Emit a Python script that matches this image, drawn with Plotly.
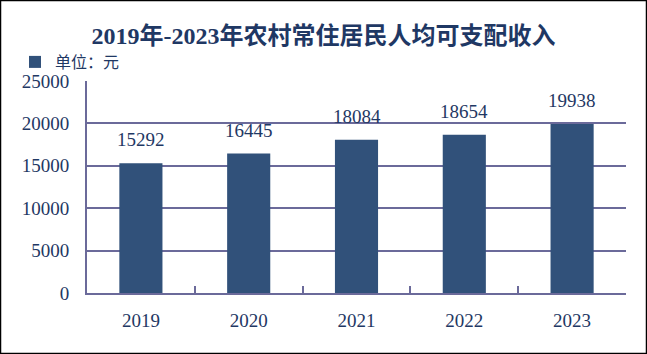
import plotly.graph_objects as go

years = ["2019", "2020", "2021", "2022", "2023"]
income = [15292, 16445, 18084, 18654, 19938]
ytick_vals = [0, 5000, 10000, 15000, 20000, 25000]

W, H = 647, 354
L, R, T, B = 87, 21, 81, 61
pw, ph = W - L - R, H - T - B

navy = "#1F3864"
grid = "#6B6A9A"
bar_color = "#31517A"
serif = "SimSun, 'Liberation Serif', 'Noto Sans CJK SC', serif"

fig = go.Figure()
fig.add_trace(go.Bar(
    x=years, y=income, name="单位：元",
    marker=dict(color=bar_color, line=dict(width=0)),
    width=0.4, showlegend=True,
))

for i, yv in enumerate(income):
    fig.add_annotation(x=i, y=yv, text=str(yv), showarrow=False,
                       xref="x", yref="y",
                       yanchor="bottom", yshift=11,
                       font=dict(family=serif, size=19, color=navy))

# outer border
fig.add_shape(type="rect", xref="paper", yref="paper",
              x0=(0.5 - L) / pw, x1=(W - 0.5 - L) / pw,
              y0=-(B - 0.5) / ph, y1=(ph + T - 0.5) / ph,
              line=dict(color="black", width=1.5), layer="above")

fig.update_layout(
    width=W, height=H,
    margin=dict(l=L, r=R, t=T, b=B),
    paper_bgcolor="white", plot_bgcolor="white",
    title=dict(text="<b>2019年-2023年农村常住居民人均可支配收入</b>",
               x=0.5, xref="container", xanchor="center",
               y=1 - 36 / H, yref="container", yanchor="middle",
               font=dict(family=serif, size=24, color=navy)),
    legend=dict(x=(15 - L) / pw, xanchor="left",
                y=1 + (T - 62) / ph, yanchor="middle",
                font=dict(family=serif, size=16, color=navy),
                bgcolor="rgba(0,0,0,0)", itemwidth=30,
                tracegroupgap=0),
    showlegend=True,
    xaxis=dict(type="category", range=[-0.5, len(years) - 0.5],
               showline=True, linecolor=grid, linewidth=2,
               ticks="inside", tickson="boundaries", ticklen=7,
               tickcolor=grid, tickwidth=2, showgrid=False,
               tickfont=dict(family=serif, size=19, color=navy),
               ticklabelstandoff=9),
    yaxis=dict(range=[0, 25000], tickvals=ytick_vals, tickformat="d",
               showline=True, linecolor=grid, linewidth=2,
               showgrid=True, gridcolor=grid, gridwidth=2,
               zeroline=False, ticks="",
               tickfont=dict(family=serif, size=19, color=navy),
               ticklabelstandoff=12),
    bargap=0.6,
)

fig.write_html("out.html")
